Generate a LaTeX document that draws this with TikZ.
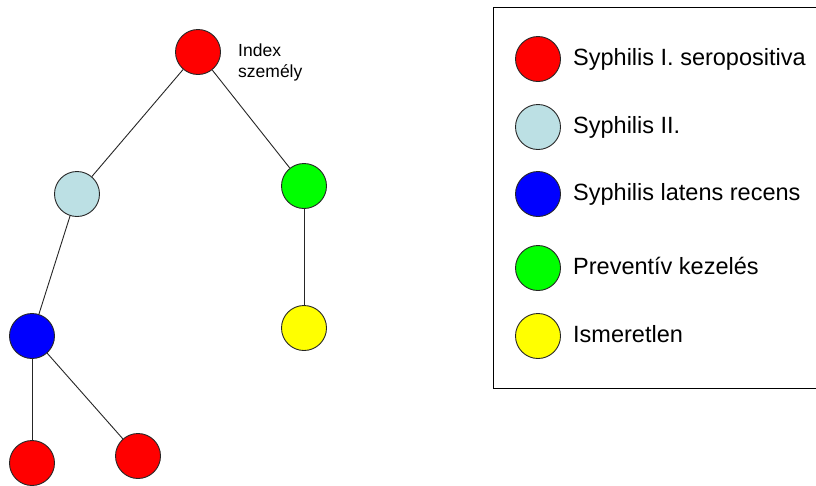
\documentclass[tikz,border=0pt]{standalone}
\usepackage{fontspec}
\setmainfont{Liberation Sans}
\definecolor{lblue}{RGB}{188,224,228}
\definecolor{pred}{RGB}{255,0,0}
\definecolor{pgreen}{RGB}{0,255,0}
\definecolor{pblue}{RGB}{0,0,255}
\definecolor{pyellow}{RGB}{255,255,0}
\begin{document}
\begin{tikzpicture}[x=1pt,y=-1pt,
  person/.style={circle,draw=black!85,line width=0.9pt,minimum size=45pt,inner sep=0pt},
  link/.style={draw=black!85,line width=0.9pt},
  legtext/.style={anchor=base west,font=\fontsize{23.5}{26}\selectfont,inner sep=0pt},
  idxtext/.style={anchor=north west,align=left,font=\fontsize{17.5}{21}\selectfont,inner sep=0pt}]
\useasboundingbox[fill=white] (0,0) rectangle (816,485);
\clip (0,0) rectangle (816,485);
% tree
\node[person,fill=pred] (idx) at (198,52) {};
\node[person,fill=lblue] (lb) at (77,194) {};
\node[person,fill=pgreen] (gr) at (304,186) {};
\node[person,fill=pblue] (bl) at (32,336) {};
\node[person,fill=pyellow] (ye) at (304,328) {};
\node[person,fill=pred] (r1) at (32,463) {};
\node[person,fill=pred] (r2) at (138,456) {};
\node[idxtext] (idxlabel) at (238,44) {Index\\személy};
\draw[link] (idx) -- (lb);
\draw[link] (idx) -- (gr);
\draw[link] (lb) -- (bl);
\draw[link] (gr) -- (ye);
\draw[link] (bl) -- (r1);
\draw[link] (bl) -- (r2);
% legend
\draw[line width=1pt] (493,7) rectangle (830,388.5);
\node[person,fill=pred] (l1) at (538,59) {};
\node[person,fill=lblue] (l2) at (538,127) {};
\node[person,fill=pblue] (l3) at (538,194) {};
\node[person,fill=pgreen] (l4) at (538,268) {};
\node[person,fill=pyellow] (l5) at (538,336) {};
\node[legtext] (t1) at (573,65) {Syphilis I. seropositiva};
\node[legtext] (t2) at (573,133) {Syphilis II.};
\node[legtext] (t3) at (573,200) {Syphilis latens recens};
\node[legtext] (t4) at (573,274) {Preventív kezelés};
\node[legtext] (t5) at (573,342) {Ismeretlen};
\end{tikzpicture}
\end{document}
